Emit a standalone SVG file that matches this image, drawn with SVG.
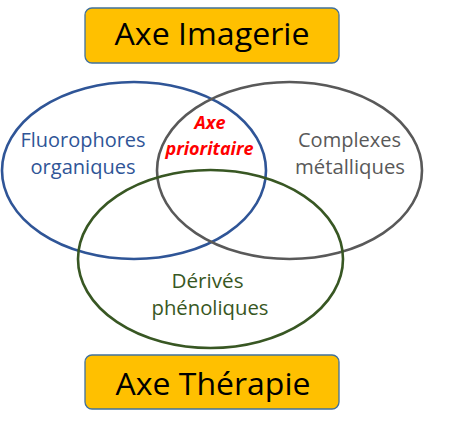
<svg xmlns="http://www.w3.org/2000/svg" width="450" height="427" viewBox="0 0 450 427">
<style>
.box{fill:#FFC000;stroke:#41719C;stroke-width:1.3}
.title{font-family:"Open Sans","Liberation Sans",sans-serif;font-size:31px;fill:#000;text-anchor:middle}
.set{fill:none;stroke-width:2.6}
.lbl{font-family:"Open Sans","Liberation Sans",sans-serif;font-size:19.5px;text-anchor:middle}
.prio{font-family:"Open Sans","Liberation Sans",sans-serif;font-size:18px;font-weight:bold;font-style:italic;fill:#FF0000;text-anchor:middle}
</style>
<rect width="450" height="427" fill="#fff"/>
<g id="axe-imagerie">
<rect class="box" x="85" y="8" width="254" height="55" rx="7"/>
<text class="title" x="212" y="45" textLength="195" lengthAdjust="spacingAndGlyphs">Axe Imagerie</text>
</g>
<g id="fluorophores">
<ellipse class="set" cx="134" cy="170.5" rx="132" ry="88.5" stroke="#2F5597"/>
<text class="lbl" x="83" y="147" fill="#2F5597" textLength="125" lengthAdjust="spacingAndGlyphs">Fluorophores</text>
<text class="lbl" x="83" y="174" fill="#2F5597" textLength="105" lengthAdjust="spacingAndGlyphs">organiques</text>
</g>
<g id="complexes">
<ellipse class="set" cx="289.5" cy="170.5" rx="132.5" ry="88.5" stroke="#595959"/>
<text class="lbl" x="349.5" y="147" fill="#595959" textLength="103" lengthAdjust="spacingAndGlyphs">Complexes</text>
<text class="lbl" x="350" y="174" fill="#595959" textLength="110" lengthAdjust="spacingAndGlyphs">métalliques</text>
</g>
<g id="derives">
<ellipse class="set" cx="210.5" cy="259" rx="132.5" ry="89" stroke="#385723"/>
<text class="lbl" x="207.5" y="288" fill="#385723" textLength="72" lengthAdjust="spacingAndGlyphs">Dérivés</text>
<text class="lbl" x="210" y="315" fill="#385723" textLength="117" lengthAdjust="spacingAndGlyphs">phénoliques</text>
</g>
<g id="axe-prioritaire">
<text class="prio" x="210" y="129" textLength="31" lengthAdjust="spacingAndGlyphs">Axe</text>
<text class="prio" x="209.5" y="155" textLength="88" lengthAdjust="spacingAndGlyphs">prioritaire</text>
</g>
<g id="axe-therapie">
<rect class="box" x="85" y="355" width="254" height="54" rx="7"/>
<text class="title" x="213" y="395" textLength="195" lengthAdjust="spacingAndGlyphs">Axe Thérapie</text>
</g>
<g id="connectors"/>
</svg>
